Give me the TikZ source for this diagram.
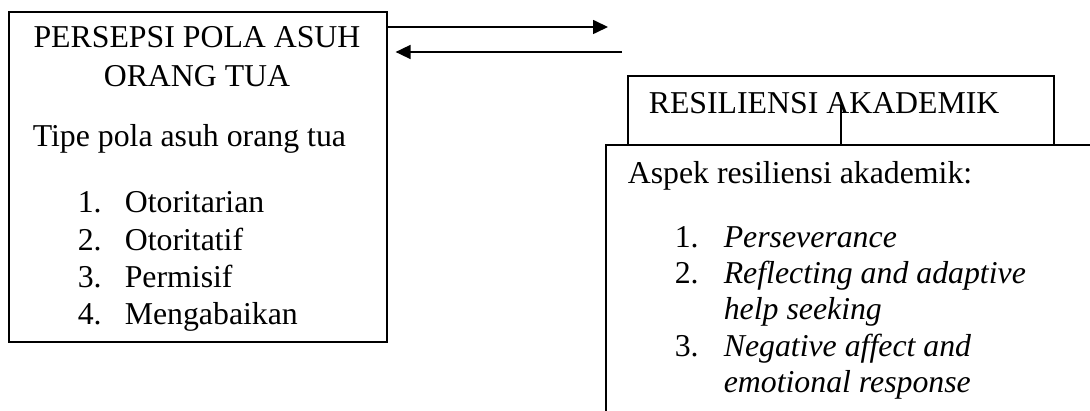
\documentclass[tikz,border=0pt]{standalone}
\usepackage{fontspec}
\setmainfont{Liberation Serif}
\usetikzlibrary{arrows.meta}

\begin{document}
\begin{tikzpicture}
[x=0.5pt,y=-0.5pt,line width=0.8pt,
 every node/.style={inner sep=0pt,font=\fontsize{15.9}{18}\selectfont},
 kotak/.style={draw,fill=white,anchor=north west},
 teks/.style={anchor=base west},
 panah/.style={-{Triangle[length=7.5pt,width=7pt]}}]
\clip (0,0) rectangle (1090,411);
\node[kotak,minimum width=189pt,minimum height=165pt] (pola) at (8,11) {};
\node[anchor=base] (judul1) at (197,48) {PERSEPSI POLA ASUH};
\node[anchor=base] (judul2) at (197,87) {ORANG TUA};
\node[teks] (tipe) at (32,147) {Tipe pola asuh orang tua};
\foreach \t [count=\i] in {Otoritarian,Otoritatif,Permisif,Mengabaikan}
{
\node[teks] (no\i) at (77,{176+37*\i}) {\i.};
\node[teks] (tp\i) at (124,{176+37*\i}) {\t};
}

\node[kotak,minimum width=213pt,minimum height=34.5pt] (resiliensi) at (627,75) {};
\node[kotak,minimum width=250pt,minimum height=150pt] (aspek) at (605,144) {};
\node[teks] (judul3) at (648,114) {RESILIENSI AKADEMIK};
\node[teks] (ask) at (627,184) {Aspek resiliensi akademik:};
\foreach \n/\t/\y [count=\i] in {1./Perseverance/247,2./Reflecting and adaptive/283,/help seeking/319,3./Negative affect and/356,/emotional response/392}
{
\node[teks] (rn\i) at (674,\y) {\n};
\node[teks] (rt\i) at (723,\y) {\itshape\t};
}

\coordinate (p1) at (608,27);
\coordinate (p2) at (622,52);
\coordinate (p3) at (841,105);
\draw[panah] (pola.east |- p1) -- (p1);
\draw[panah] (p2) -- ([xshift=4pt]pola.east |- p2);
\draw (p3) -- (p3 |- aspek.north);

\end{tikzpicture}
\end{document}
